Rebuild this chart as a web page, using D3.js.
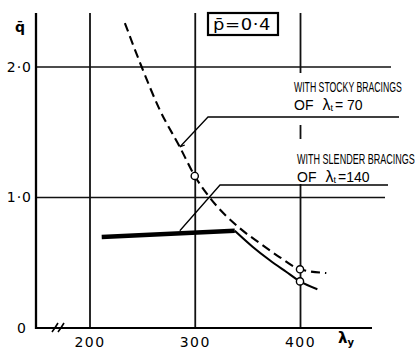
<!DOCTYPE html>
<html><head><meta charset="utf-8">
<script src="https://cdn.jsdelivr.net/npm/d3@7"></script>
<style>body{margin:0;background:#fff}svg{display:block}</style>
</head><body><svg id="c" width="419" height="349"></svg>
<script>
// ---- data ----
const xTicks = [200, 300, 400];
const yTicks = [0, 1.0, 2.0];
const yTickLabels = ["0", "1·0", "2·0"];
const stockyLambda = [233.6, 249.5, 266.8, 285.8, 300, 314.2, 342.6, 361.6, 380.5, 400, 425];
const stockyQ      = [2.337, 2.002, 1.671, 1.387, 1.165, 1.0, 0.766, 0.651, 0.544, 0.45, 0.421];
const slenderFlatLambda = [211.6, 338];
const slenderFlatQ      = [0.697, 0.745];
const slenderCurveLambda = [338, 354.9, 371.0, 386.8, 400, 416.5];
const slenderCurveQ      = [0.745, 0.623, 0.521, 0.431, 0.357, 0.297];
const markLambda = [300, 400, 400];
const markQ      = [1.165, 0.45, 0.357];

// ---- layout ----
const plotLeft = 36, plotTop = 13, plotBottom = 328, axisEnd = 372;
const svg = d3.select("#c");
const x = d3.scaleLinear().domain([200, 400]).range([89.5, 300]);
const y = d3.scaleLinear().domain([0, 2]).range([plotBottom, 67]);
const FONT = "'DejaVu Sans', 'Liberation Sans', sans-serif";
const AFONT = "'Liberation Sans', Arial, sans-serif";

// vertical grid lines via axis
const gx = svg.append("g").attr("transform", `translate(0,${plotBottom})`)
  .call(d3.axisBottom(x).tickValues(xTicks).tickSize(-(plotBottom - plotTop)).tickFormat(""));
gx.select(".domain").remove();
gx.selectAll(".tick line").attr("stroke", "#111").attr("stroke-width", 1.8);

// horizontal grid lines
const hEnds = {1: 385, 2: 391};
svg.selectAll("line.hg").data([1.0, 2.0]).join("line")
  .attr("x1", plotLeft).attr("x2", d => hEnds[d]).attr("y1", d => y(d)).attr("y2", d => y(d))
  .attr("stroke", "#111").attr("stroke-width", 1.4);

// white backgrounds behind annotation texts (they mask the grid)
svg.append("rect").attr("x", 290).attr("y", 73).attr("width", 116).attr("height", 52).attr("fill", "#fff");
svg.append("rect").attr("x", 290).attr("y", 139).attr("width", 129).attr("height", 45).attr("fill", "#fff");

// axes lines
svg.append("line").attr("x1", plotLeft).attr("x2", plotLeft).attr("y1", plotTop).attr("y2", plotBottom + 1)
  .attr("stroke", "#000").attr("stroke-width", 2.3);
svg.append("line").attr("x1", plotLeft).attr("x2", axisEnd).attr("y1", plotBottom).attr("y2", plotBottom)
  .attr("stroke", "#000").attr("stroke-width", 2.1);
// axis break marks
[55, 61].forEach(bx => {
  svg.append("path").attr("d", `M${bx - 3},${plotBottom + 4} Q${bx},${plotBottom} ${bx + 3},${plotBottom - 5}`)
    .attr("fill", "none").attr("stroke", "#000").attr("stroke-width", 1.6);
});

// x tick labels via axis
const xl = svg.append("g").attr("transform", `translate(0,${plotBottom})`)
  .call(d3.axisBottom(x).tickValues(xTicks).tickSize(0).tickPadding(9).tickFormat(d3.format("d")));
xl.select(".domain").remove();
xl.selectAll("text").attr("font-family", FONT).attr("font-size", 14).attr("fill", "#000")
  .attr("letter-spacing", 1.5);

// y tick labels via axis
const yl = svg.append("g").attr("transform", `translate(${plotLeft},0)`)
  .call(d3.axisLeft(y).tickValues(yTicks).tickSize(0).tickPadding(4).tickFormat((d, i) => yTickLabels[i]));
yl.select(".domain").remove();
yl.selectAll("text").attr("font-family", FONT).attr("font-size", 14).attr("fill", "#000")
  .attr("letter-spacing", 1)
  .attr("dx", d => d === 0 ? -5 : 0);

// axis titles
svg.append("text").attr("x", 20).attr("y", 32).attr("text-anchor", "middle")
  .attr("font-family", FONT).attr("font-size", 14).attr("font-weight", "bold").text("q\u0304");
const lt = svg.append("text").attr("x", 338).attr("y", 343)
  .attr("font-family", FONT).attr("font-size", 15).attr("font-weight", "bold");
lt.append("tspan").text("λ");
lt.append("tspan").attr("dy", 3).attr("font-size", 10).text("y");

// box p=0.4
svg.append("rect").attr("x", 208).attr("y", 13).attr("width", 70).attr("height", 22)
  .attr("fill", "#fff").attr("stroke", "#000").attr("stroke-width", 2.2);
svg.append("text").attr("x", 213).attr("y", 30).attr("textLength", 58).attr("lengthAdjust", "spacingAndGlyphs")
  .attr("font-family", FONT).attr("font-size", 15).attr("letter-spacing", 0.5).text("p\u0304=0·4");

// curves
const line = d3.line().x(d => x(d[0])).y(d => y(d[1])).curve(d3.curveMonotoneX);
svg.append("path").datum(stockyLambda.map((l, i) => [l, stockyQ[i]])).attr("d", line)
  .attr("fill", "none").attr("stroke", "#000").attr("stroke-width", 2.1).attr("stroke-dasharray", "9,5");
svg.append("path").datum(slenderFlatLambda.map((l, i) => [l, slenderFlatQ[i]])).attr("d", line)
  .attr("fill", "none").attr("stroke", "#000").attr("stroke-width", 4.5);
svg.append("path").datum(slenderCurveLambda.map((l, i) => [l, slenderCurveQ[i]])).attr("d", line)
  .attr("fill", "none").attr("stroke", "#000").attr("stroke-width", 2.1);

// marked points
svg.selectAll("circle.m").data(markLambda.map((l, i) => [l, markQ[i]])).join("circle")
  .attr("cx", d => x(d[0])).attr("cy", d => y(d[1])).attr("r", 3.6)
  .attr("fill", "#fff").attr("stroke", "#000").attr("stroke-width", 1.4);

// annotations: condensed text by horizontal scaling to the measured width
function condensed(xp, yp, str, width) {
  const g = svg.append("g");
  const t = g.append("text").attr("x", 0).attr("y", 0).attr("font-family", AFONT).attr("font-size", 15.5).text(str);
  const w = t.node().getComputedTextLength();
  g.attr("transform", `translate(${xp},${yp}) scale(${width / w},1)`);
}
function ofLine(xp, yp, rest) {
  const t = svg.append("text").attr("x", xp).attr("y", yp).attr("font-family", AFONT).attr("font-size", 14);
  t.append("tspan").text("OF");
  t.append("tspan").attr("font-size", 16).attr("dx", 9).text("λ");
  t.append("tspan").attr("font-size", 9).attr("dy", 1).text("t");
  t.append("tspan").attr("dy", -1).attr("dx", 2).text(rest);
}
condensed(294, 92, "WITH STOCKY BRACINGS", 108);
ofLine(294, 110, "= 70");
condensed(297, 164, "WITH SLENDER BRACINGS", 118);
ofLine(297, 182, "=140");

// underlines and leaders
const sTarget = [x(285.8), y(1.387)];
svg.append("polyline").attr("points", `399,117 208,117 ${sTarget[0]},${sTarget[1]} ${sTarget[0] + 5},${sTarget[1] - 2}`)
  .attr("fill", "none").attr("stroke", "#000").attr("stroke-width", 1.3);
const lTarget = [x(285.8), y(0.745)];
svg.append("polyline").attr("points", `388,185 220,185 ${lTarget[0]},${lTarget[1]}`)
  .attr("fill", "none").attr("stroke", "#000").attr("stroke-width", 1.3);
</script></body></html>
